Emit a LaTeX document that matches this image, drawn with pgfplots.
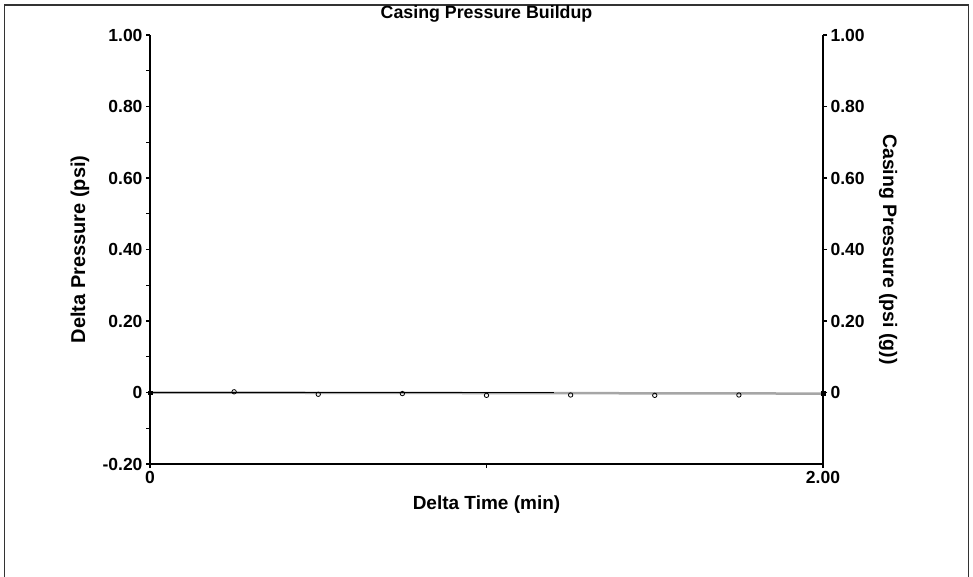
\documentclass[border=0pt]{standalone}
\usepackage{pgfplots}
\pgfplotsset{compat=1.18}
\usepackage{fontspec}
\setmainfont{Liberation Sans}
\begin{document}
\begin{tikzpicture}[x=1pt,y=1pt]
\useasboundingbox (0,0) rectangle (973,576);
\draw[line width=1.5pt, black!80] (4.5,-5) -- (4.5,571) -- (968.5,571) -- (968.5,-5);
\node[font=\bfseries\fontsize{17.8}{17.8}\selectfont] at (486.5,562) {Casing Pressure Buildup};
\begin{axis}[
  at={(150pt,112pt)}, anchor=south west,
  scale only axis, width=673pt, height=429pt,
  xmin=0, xmax=2, ymin=-0.2, ymax=1,
  axis x line*=bottom, axis y line*=left,
  axis line style={line width=1.5pt, -},
  xtick={0,2}, xticklabels={0,2.00}, minor xtick={1},
  ytick={-0.2,0,0.2,0.4,0.6,0.8,1}, yticklabels={-0.20,0,0.20,0.40,0.60,0.80,1.00},
  minor ytick={-0.1,0.1,0.3,0.5,0.7,0.9},
  tick align=outside, major tick length=4pt, minor tick length=4pt,
  tick style={line width=1.2pt, black},
  ticklabel style={font=\bfseries\fontsize{17.5}{17.5}\selectfont},
  /pgf/number format/assume math mode=true,
  xlabel={Delta Time (min)}, ylabel={Delta Pressure (psi)},
  xlabel style={font=\bfseries\fontsize{19}{19}\selectfont, at={(axis description cs:0.5,-0.0956)}, anchor=center},
  ylabel style={font=\bfseries\fontsize{20}{20}\selectfont, at={(axis description cs:-0.104,0.5)}, anchor=center, rotate=0},
  clip=false,
]
\addplot[gray!70, line width=2.5pt] coordinates {(0,0) (2,-0.003)};
\addplot[black, line width=1.5pt] coordinates {(0,0) (1.2,0)};
\addplot[only marks, mark=o, mark size=2.2pt, black, mark options={line width=0.8pt}]
  coordinates {(0.25,0.002) (0.5,-0.005) (0.75,-0.003) (1.0,-0.008) (1.25,-0.007) (1.5,-0.008) (1.75,-0.007)};
\addplot[only marks, mark=square*, mark size=1.8pt, black] coordinates {(0,0) (2,-0.002)};
\end{axis}
\begin{axis}[
  at={(150pt,112pt)}, anchor=south west,
  scale only axis, width=673pt, height=429pt,
  xmin=0, xmax=2, ymin=-0.2, ymax=1,
  axis x line=none, axis y line*=right,
  axis line style={line width=1.5pt, -},
  ytick={0,0.2,0.4,0.6,0.8,1}, yticklabels={0,0.20,0.40,0.60,0.80,1.00},
  tick align=outside, major tick length=4pt,
  tick style={line width=1.2pt, black},
  ticklabel style={font=\bfseries\fontsize{17.5}{17.5}\selectfont},
  /pgf/number format/assume math mode=true,
  ylabel={Casing Pressure (psi (g))},
  ylabel style={font=\bfseries\fontsize{19.5}{19.5}\selectfont, at={(axis description cs:1.0966,0.5)}, anchor=center, rotate=180},
]
\addplot[draw=none] coordinates {(0,0)};
\end{axis}
\end{tikzpicture}
\end{document}
